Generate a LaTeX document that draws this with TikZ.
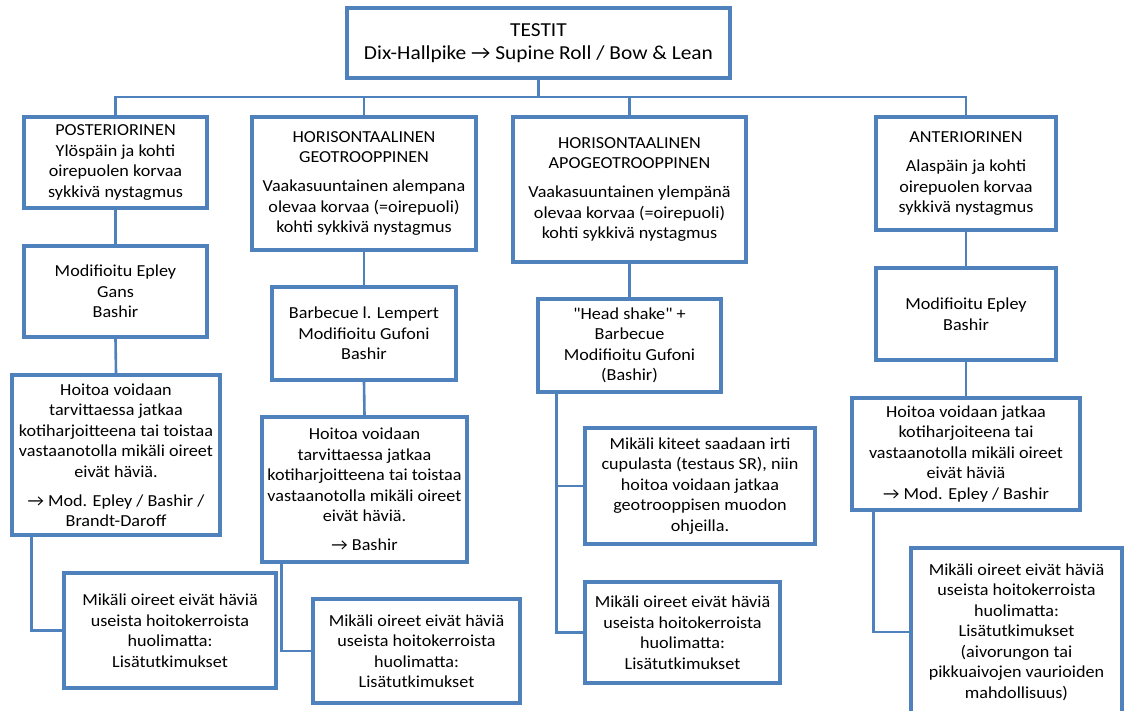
\documentclass[tikz,border=0pt]{standalone}
\usepackage{fontspec}
\setmainfont{Carlito}[FakeStretch=1.08]
\newfontfamily\plainfont{Carlito}[FakeStretch=1.08]
\definecolor{boxblue}{RGB}{79,129,189}
\newcommand\normtext{\fontsize{16.8}{20.5}\selectfont}
\newcommand\bigtext{\fontsize{19.8}{23}\selectfont}
\newcommand\arr{→}
\newcommand\sq{{\plainfont"}}
\begin{document}
\begin{tikzpicture}[x=1pt,y=-1pt,
  box/.style={draw=boxblue, line width=3.5pt, align=center, inner sep=0pt, font=\normtext, text=black},
  conn/.style={draw=boxblue, line width=2.6pt},
]
\useasboundingbox (0,0) rectangle (1125,710);

% row 0
\node[box, font=\bigtext, minimum width=383pt, minimum height=70pt] (top) at (538.5,43)
  {TESTIT\\ Dix-Hallpike \arr{} Supine Roll / Bow \& Lean};

% row 1
\node[box, minimum width=183pt, minimum height=91pt] (post1) at (115.5,162.5)
  {POSTERIORINEN\\ Ylöspäin ja kohti\\ oirepuolen korvaa\\ sykkivä nystagmus};
\node[box, minimum width=224pt, minimum height=133pt] (geo1) at (364,183.5)
  {HORISONTAALINEN\\ GEOTROOPPINEN\\[8.5pt] Vaakasuuntainen alempana\\ olevaa korvaa (=oirepuoli)\\ kohti sykkivä nystagmus};
\node[box, minimum width=233pt, minimum height=145pt] (apo1) at (629.5,189.5)
  {HORISONTAALINEN\\ APOGEOTROOPPINEN\\[8.5pt] Vaakasuuntainen ylempänä\\ olevaa korvaa (=oirepuoli)\\ kohti sykkivä nystagmus};
\node[box, minimum width=180pt, minimum height=113pt] (ant1) at (966,173.5)
  {ANTERIORINEN\\[8.5pt] Alaspäin ja kohti\\ oirepuolen korvaa\\ sykkivä nystagmus};

% row 2
\node[box, minimum width=183pt, minimum height=91pt] (post2) at (115.5,291.5)
  {Modifioitu Epley\\ Gans\\ Bashir};
\node[box, minimum width=184pt, minimum height=93pt] (geo2) at (364,333.5)
  {Barbecue l. Lempert\\ Modifioitu Gufoni\\ Bashir};
\node[box, minimum width=183pt, minimum height=93pt] (apo2) at (629.5,345.5)
  {\sq Head shake\sq{} +\\ Barbecue\\ Modifioitu Gufoni\\ (Bashir)};
\node[box, minimum width=180pt, minimum height=92pt] (ant2) at (966,314)
  {Modifioitu Epley\\ Bashir};

% row 3
\node[box, minimum width=208pt, minimum height=160pt] (post3) at (116,455)
  {Hoitoa voidaan\\ tarvittaessa jatkaa\\ kotiharjoitteena tai toistaa\\ vastaanotolla mikäli oireet\\ eivät häviä.\\[8.5pt] \arr{} Mod. Epley / Bashir /\\ Brandt-Daroff};
\node[box, minimum width=205pt, minimum height=145pt] (geo3) at (364.5,489.5)
  {Hoitoa voidaan\\ tarvittaessa jatkaa\\ kotiharjoitteena tai toistaa\\ vastaanotolla mikäli oireet\\ eivät häviä.\\[8.5pt] \arr{} Bashir};
\node[box, minimum width=230pt, minimum height=116pt] (apo3) at (700,486)
  {Mikäli kiteet saadaan irti\\ cupulasta (testaus SR), niin\\ hoitoa voidaan jatkaa\\ geotrooppisen muodon\\ ohjeilla.};
\node[box, minimum width=228pt, minimum height=112pt] (ant3) at (966,454)
  {Hoitoa voidaan jatkaa\\ kotiharjoiteena tai\\ vastaanotolla mikäli oireet\\ eivät häviä\\ \arr{} Mod. Epley / Bashir};

% row 4
\node[box, minimum width=212pt, minimum height=115pt] (post4) at (170,630.5)
  {Mikäli oireet eivät häviä\\ useista hoitokerroista\\ huolimatta:\\ Lisätutkimukset};
\node[box, minimum width=207pt, minimum height=104pt] (geo4) at (416.5,651)
  {Mikäli oireet eivät häviä\\ useista hoitokerroista\\ huolimatta:\\ Lisätutkimukset};
\node[box, minimum width=195pt, minimum height=101pt] (apo4) at (682.5,632.5)
  {Mikäli oireet eivät häviä\\ useista hoitokerroista\\ huolimatta:\\ Lisätutkimukset};
\node[box, minimum width=211pt, minimum height=168pt] (ant4) at (1016.5,632)
  {Mikäli oireet eivät häviä\\ useista hoitokerroista\\ huolimatta:\\ Lisätutkimukset\\ (aivorungon tai\\ pikkuaivojen vaurioiden\\ mahdollisuus)};

% connectors
\coordinate (barY) at (0,97);
\draw[conn] (top.south) -- (top.south |- barY);
\draw[conn] (post1.north) -- (post1.north |- barY) -- (ant1.north |- barY) -- (ant1.north);
\draw[conn] (geo1.north) -- (geo1.north |- barY);
\draw[conn] (apo1.north) -- (apo1.north |- barY);

\draw[conn] (post1.south) -- (post2.north);
\draw[conn] (post2.south) -- (post3.north);
\draw[conn] (geo1.south) -- (geo2.north);
\draw[conn] (geo2.south) -- (geo3.north);
\draw[conn] (apo1.south) -- (apo2.north);
\draw[conn] (ant1.south) -- (ant2.north);
\draw[conn] (ant2.south) -- (ant3.north);

\draw[conn] ([xshift=21pt]post3.south west) |- (post4.west);
\draw[conn] ([xshift=21pt]geo3.south west) |- (geo4.west);
\draw[conn] ([xshift=20pt]apo2.south west) |- (apo3.west);
\draw[conn] ([xshift=20pt]apo2.south west) |- (apo4.west);
\draw[conn] ([xshift=23pt]ant3.south west) |- (ant4.west);
\end{tikzpicture}
\end{document}
